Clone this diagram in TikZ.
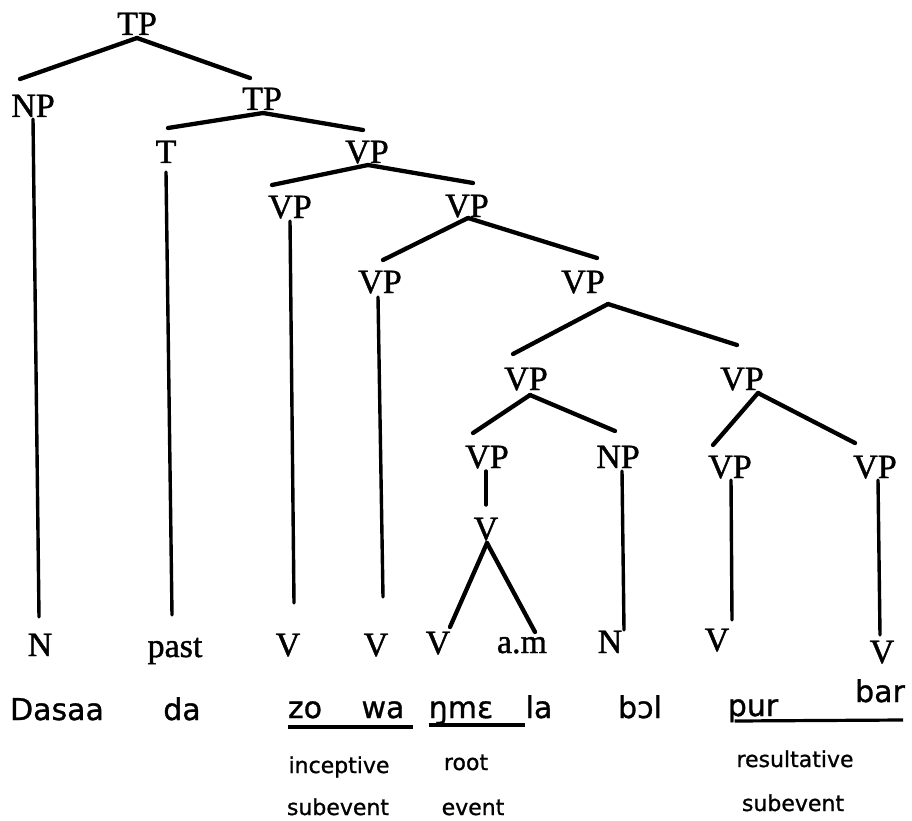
\documentclass[tikz,border=0pt]{standalone}
\usepackage{fontspec}
\setmainfont{Liberation Serif}
\newfontfamily\tserif{Liberation Serif}[FakeBold=1.2]
\newfontfamily\lsans{DejaVu Sans}[FakeBold=1.0]
\begin{document}
\begin{tikzpicture}[x=1pt,y=-1pt,
  lab/.style={font=\tserif\fontsize{34}{36}\selectfont, inner sep=0pt, anchor=base},
  wrd/.style={font=\lsans\fontsize{30}{34}\selectfont, inner sep=0pt, anchor=base},
  note/.style={font=\lsans\fontsize{22}{26}\selectfont, inner sep=0pt, anchor=base},
  br/.style={line width=4.3pt, line cap=round},
  vl/.style={line width=3.4pt, line cap=round},
  ul/.style={line width=3.2pt}]
\useasboundingbox (0,0) rectangle (912,821);
% tree labels
\node[lab] (t1)  at (137,35)  {TP};
\node[lab] (np1) at (33,117)  {NP};
\node[lab] (t2)  at (262,110) {TP};
\node[lab] (tt)  at (166,163) {T};
\node[lab] (v1)  at (367,163) {VP};
\node[lab] (v2)  at (290,218) {VP};
\node[lab] (v3)  at (467,217) {VP};
\node[lab] (v4)  at (380,293) {VP};
\node[lab] (v5)  at (583,293) {VP};
\node[lab] (v6)  at (526,390) {VP};
\node[lab] (v7)  at (742,390) {VP};
\node[lab] (v8)  at (487,468) {VP};
\node[lab] (np2) at (618,468) {NP};
\node[lab] (v9)  at (730,478) {VP};
\node[lab] (v10) at (875,478) {VP};
\node[lab] (vv)  at (486,540) {V};
% terminal category labels
\node[lab] (nA)  at (40,656)  {N};
\node[lab] (pst) at (175,657) {past};
\node[lab] (vA)  at (288,656) {V};
\node[lab] (vB)  at (376,656) {V};
\node[lab] (vC)  at (438,654) {V};
\node[lab] (am)  at (522,653) {a.m};
\node[lab] (nB)  at (610,653) {N};
\node[lab] (vD)  at (717,651) {V};
\node[lab] (vE)  at (882,663) {V};
% branches
\draw[br] ([shift={(0,3)}]t1.base) -- ([shift={(-13,-38)}]np1.base);
\draw[br] ([shift={(0,3)}]t1.base) -- ([shift={(-12,-32)}]t2.base);
\draw[br] ([shift={(1,3)}]t2.base) -- ([shift={(2,-35)}]tt.base);
\draw[br] ([shift={(1,3)}]t2.base) -- ([shift={(-4,-33)}]v1.base);
\draw[br] ([shift={(1,2)}]v1.base) -- ([shift={(-18,-33)}]v2.base);
\draw[br] ([shift={(1,2)}]v1.base) -- ([shift={(6,-34)}]v3.base);
\draw[br] ([shift={(1,1)}]v3.base) -- ([shift={(3,-33)}]v4.base);
\draw[br] ([shift={(1,1)}]v3.base) -- ([shift={(14,-35)}]v5.base);
\draw[br] ([shift={(25,11)}]v5.base) -- ([shift={(-13,-36)}]v6.base);
\draw[br] ([shift={(25,11)}]v5.base) -- ([shift={(-5,-45)}]v7.base);
\draw[br] ([shift={(4,5)}]v6.base) -- ([shift={(-14,-35)}]v8.base);
\draw[br] ([shift={(4,5)}]v6.base) -- ([shift={(-3,-37)}]np2.base);
\draw[br] ([shift={(16,3)}]v7.base) -- ([shift={(-17,-33)}]v9.base);
\draw[br] ([shift={(16,3)}]v7.base) -- ([shift={(-20,-35)}]v10.base);
\draw[br] ([shift={(1,3)}]vv.base) -- ([shift={(12,-27)}]vC.base);
\draw[br] ([shift={(1,3)}]vv.base) -- ([shift={(13,-21)}]am.base);
% verticals
\draw[vl] ([shift={(0,2)}]np1.base) -- ([shift={(-1,-39)}]nA.base);
\draw[vl] ([shift={(0,9)}]tt.base) -- ([shift={(-3,-42)}]pst.base);
\draw[vl] ([shift={(0,3)}]v2.base) -- ([shift={(6,-53)}]vA.base);
\draw[vl] ([shift={(-2,4)}]v4.base) -- ([shift={(7,-59)}]vB.base);
\draw[vl] ([shift={(-1,3)}]v8.base) -- ([shift={(0,-35)}]vv.base);
\draw[vl] ([shift={(4,3)}]np2.base) -- ([shift={(14,-23)}]nB.base);
\draw[vl] ([shift={(1,2)}]v9.base) -- ([shift={(15,-31)}]vD.base);
\draw[vl] ([shift={(3,2)}]v10.base) -- ([shift={(-2,-28)}]vE.base);
% words
\node[wrd] (w1) at (57,720)  {Dasaa};
\node[wrd] (w2) at (182,720) {da};
\node[wrd] (w3) at (305,718) {zo};
\node[wrd] (w4) at (383,718) {wa};
\node[wrd] (w5) at (461,718) {ŋmɛ};
\node[wrd] (w6) at (539,718) {la};
\node[wrd] (w7) at (640,718) {bɔl};
\node[wrd] (w8) at (753,716) {pur};
\node[wrd] (w9) at (880,702) {bar};
\draw[ul] ([shift={(0,9)}]w3.base west) -- ([shift={(8,9)}]w4.base east);
\draw[ul] ([shift={(0,7)}]w5.base west) -- ([shift={(32,7)}]w5.base east);
\draw[ul] ([shift={(7,5)}]w8.base west) -- ([shift={(-2,18)}]w9.base east);
% notes
\node[note] (n1) at (339,773) {inceptive};
\node[note] (n2) at (338,815) {subevent};
\node[note] (n3) at (466,770) {root};
\node[note] (n4) at (473,815) {event};
\node[note] (n5) at (795,767) {resultative};
\node[note] (n6) at (793,811) {subevent};
\end{tikzpicture}
\end{document}
